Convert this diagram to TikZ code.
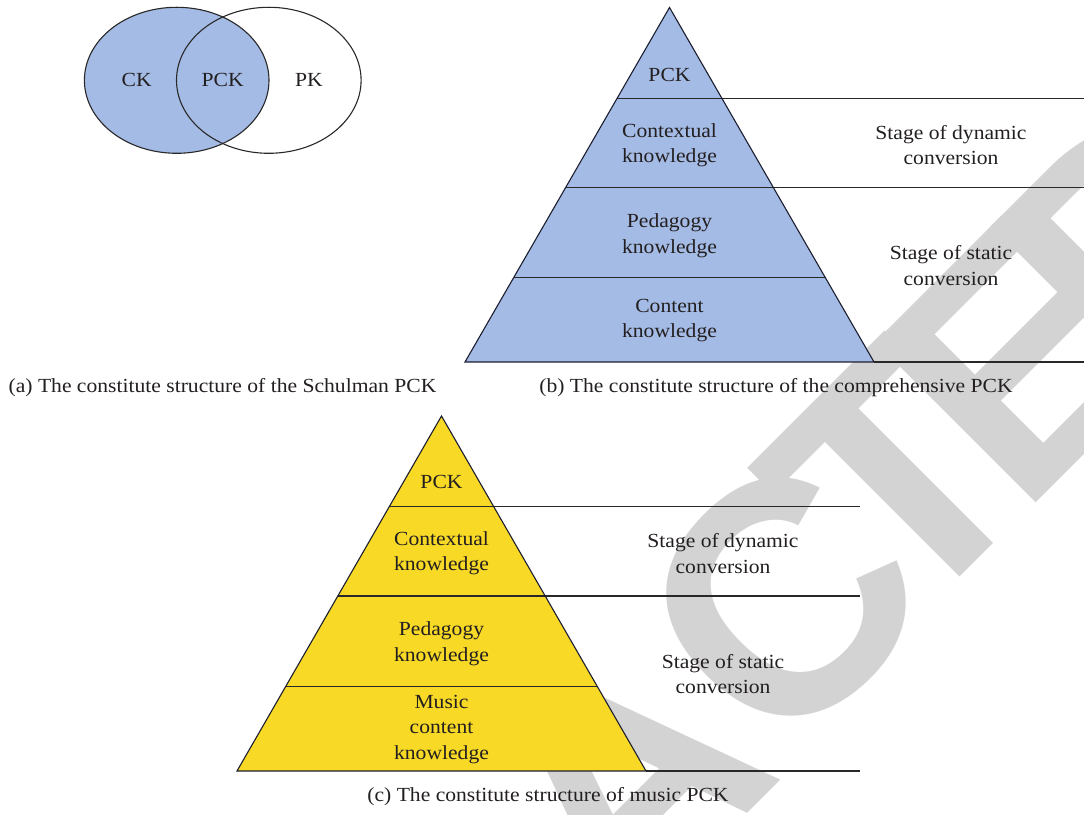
\documentclass[tikz,border=0pt]{standalone}
\usepackage{graphicx}
\usepackage{fontspec}
\setmainfont{Liberation Serif}[FakeStretch=1.08]
\newfontfamily\wmfont{Liberation Sans}
\usetikzlibrary{calc,shapes.geometric}
\definecolor{pckblue}{RGB}{164,187,229}
\definecolor{pckyellow}{RGB}{247,217,38}
\definecolor{wmgray}{RGB}{211,211,211}
\definecolor{edgecol}{RGB}{28,30,48}
\definecolor{inkcol}{RGB}{35,31,32}
\definecolor{rulecol}{RGB}{40,40,40}
\begin{document}
\begin{tikzpicture}[x=1pt,y=1pt,
  txt/.style={font=\fontsize{20}{25.5}\selectfont, align=center, inner sep=0pt, text=inkcol},
  captxt/.style={font=\fontsize{20}{25.5}\selectfont, inner sep=0pt, text=inkcol},
  wmletter/.style={rotate=45, text=wmgray, inner sep=0pt, font=\wmfont\bfseries\fontsize{330}{330}\selectfont},
  setshape/.style={ellipse, minimum width=184.6, minimum height=146, inner sep=0pt, draw=rulecol, line width=1.1pt},
  tier/.style={draw=rulecol, line width=1.1pt},
  outline/.style={draw=edgecol, line width=1.1pt, line join=miter},
  stageline/.style={draw=rulecol, line width=1.2pt}]
\useasboundingbox (0,0) rectangle (1084,814);
% watermark
\begin{scope}
\clip (0,0) rectangle (1084,814);
\node[wmletter] (wmR) at (452,-135) {R};
\node[wmletter] (wmA) at (622,36) {A};
\node[wmletter] (wmC) at (782,212) {C};
\node[wmletter] (wmT) at (896,334) {T};
\node[wmletter] (wmE) at (1018,454) {E};
\node[wmletter] (wmD) at (1140,576) {D};
\end{scope}
% (a) Venn
\node[setshape, fill=pckblue] (ckset) at (176.7,733.7) {};
\node[setshape] (pkset) at (268.8,733.7) {};
\node[txt] (ck) at (136.7,733.7) {CK};
\node[txt] (pck) at (222.7,733.7) {PCK};
\node[txt] (pk) at (309,733.7) {PK};
\node[captxt] (capa) at (222.5,426) {(a) The constitute structure of the Schulman PCK};
% (b) pyramid
\coordinate (bA) at (669.5,806.5);
\coordinate (bL) at (465,452);
\coordinate (bR) at (874,452);
\coordinate (bEnd) at (1084,452);
\fill[pckblue] (bA) -- (bL) -- (bR) -- cycle;
\coordinate (bl1) at ($(bA)!0.256!(bL)$); \coordinate (br1) at ($(bA)!0.256!(bR)$);
\coordinate (bl2) at ($(bA)!0.507!(bL)$); \coordinate (br2) at ($(bA)!0.507!(bR)$);
\coordinate (bl3) at ($(bA)!0.761!(bL)$); \coordinate (br3) at ($(bA)!0.761!(bR)$);
\draw[tier] (bl1) -- (br1);
\draw[tier] (bl2) -- (br2);
\draw[tier] (bl3) -- (br3);
\draw[stageline] (br1) -- (br1 -| bEnd);
\draw[stageline] (br2) -- (br2 -| bEnd);
\draw[stageline] (bR) -- (bEnd);
\draw[outline] (bA) -- (bL) -- (bR) -- cycle;
\node[txt] (b1) at (669.5,739) {PCK};
\node[txt] (b2) at (669.5,669) {Contextual\\knowledge};
\node[txt] (b3) at (669.5,578.5) {Pedagogy\\knowledge};
\node[txt] (b4) at (669.5,493.3) {Content\\knowledge};
\node[txt] (bs1) at (951,669) {Stage of dynamic\\conversion};
\node[txt] (bs2) at (951,548.5) {Stage of static\\conversion};
\node[captxt] (capb) at (776,426) {(b) The constitute structure of the comprehensive PCK};
% (c) pyramid
\coordinate (cA) at (441.5,398);
\coordinate (cL) at (237,43);
\coordinate (cR) at (646,43);
\coordinate (cEnd) at (860,43);
\fill[pckyellow] (cA) -- (cL) -- (cR) -- cycle;
\coordinate (cl1) at ($(cA)!0.256!(cL)$); \coordinate (cr1) at ($(cA)!0.256!(cR)$);
\coordinate (cl2) at ($(cA)!0.507!(cL)$); \coordinate (cr2) at ($(cA)!0.507!(cR)$);
\coordinate (cl3) at ($(cA)!0.761!(cL)$); \coordinate (cr3) at ($(cA)!0.761!(cR)$);
\draw[tier] (cl1) -- (cr1);
\draw[tier] (cl2) -- (cr2);
\draw[tier] (cl3) -- (cr3);
\draw[stageline] (cr1) -- (cr1 -| cEnd);
\draw[stageline] (cr2) -- (cr2 -| cEnd);
\draw[stageline] (cR) -- (cEnd);
\draw[outline] (cA) -- (cL) -- (cR) -- cycle;
\node[txt] (c1) at (441.5,332.3) {PCK};
\node[txt] (c2) at (441.5,260.7) {Contextual\\knowledge};
\node[txt] (c3) at (441.5,170.3) {Pedagogy\\knowledge};
\node[txt] (c4) at (441.5,84.5) {Music\\content\\knowledge};
\node[txt] (cs1) at (723,260.3) {Stage of dynamic\\conversion};
\node[txt] (cs2) at (723,139.8) {Stage of static\\conversion};
\node[captxt] (capc) at (548,17) {(c) The constitute structure of music PCK};
\end{tikzpicture}
\end{document}
